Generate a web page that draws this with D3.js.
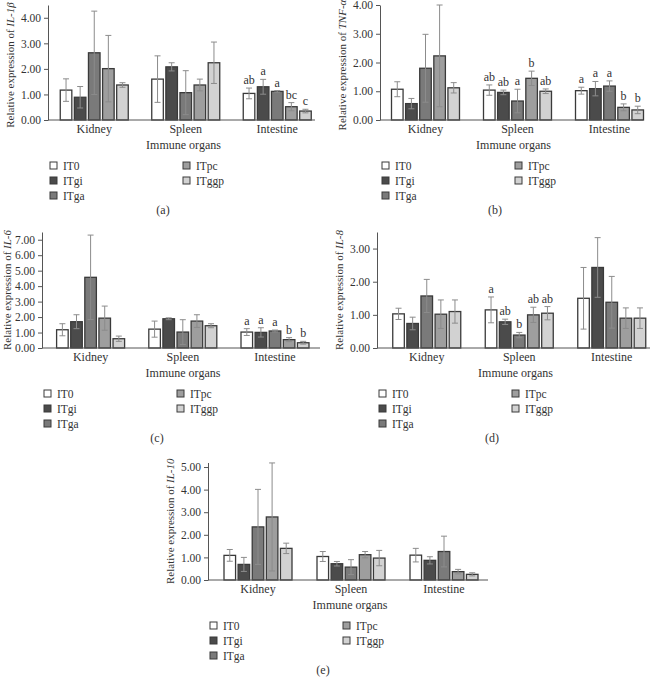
<!DOCTYPE html>
<html>
<head>
<meta charset="utf-8">
<script src="https://cdn.jsdelivr.net/npm/d3@7"></script>
<style>
body { margin: 0; background: #fff; }
text { font-family: "Liberation Serif", "DejaVu Serif", serif; fill: #333; }
</style>
</head>
<body>
<div id="chart"></div>
<script>
// categories
const organs = ["Kidney", "Spleen", "Intestine"];
const groups = ["IT0", "ITgi", "ITga", "ITpc", "ITggp"];
const groupColors = ["#ffffff", "#4b4b4b", "#7a7a7a", "#9e9e9e", "#d2d2d2"];

// (a) IL-1β  -- rows = organs, cols = groups
const il1bMean = [[1.17, 0.89, 2.63, 2.01, 1.37], [1.60, 2.08, 1.07, 1.37, 2.24], [1.04, 1.30, 1.12, 0.52, 0.35]];
const il1bSd   = [[0.44, 0.42, 1.63, 1.30, 0.09], [0.91, 0.16, 0.86, 0.23, 0.81], [0.21, 0.29, 0.03, 0.16, 0.07]];
const il1bLetters = [[], [], ["ab", "a", "a", "bc", "c"]];
const il1bTicks = [0, 1, 2, 3, 4];

// (b) TNF-α
const tnfMean = [[1.07, 0.57, 1.80, 2.23, 1.12], [1.04, 0.96, 0.66, 1.45, 1.00], [1.02, 1.09, 1.18, 0.44, 0.35]];
const tnfSd   = [[0.26, 0.18, 1.18, 1.77, 0.18], [0.18, 0.08, 0.41, 0.25, 0.08], [0.12, 0.25, 0.18, 0.12, 0.13]];
const tnfLetters = [[], ["ab", "ab", "a", "b", "ab"], ["a", "a", "a", "b", "b"]];
const tnfTicks = [0, 1, 2, 3, 4];

// (c) IL-6
const il6Mean = [[1.18, 1.70, 4.57, 1.93, 0.60], [1.22, 1.89, 1.03, 1.74, 1.44], [1.03, 1.01, 1.10, 0.54, 0.34]];
const il6Sd   = [[0.39, 0.45, 2.73, 0.78, 0.17], [0.52, 0.06, 0.80, 0.41, 0.13], [0.22, 0.30, 0.06, 0.13, 0.09]];
const il6Letters = [[], [], ["a", "a", "a", "b", "b"]];
const il6Ticks = [0, 1, 2, 3, 4, 5, 6, 7];

// (d) IL-8
const il8Mean = [[1.03, 0.74, 1.57, 1.02, 1.10], [1.15, 0.79, 0.39, 1.00, 1.05], [1.50, 2.43, 1.38, 0.90, 0.90]];
const il8Sd   = [[0.17, 0.19, 0.50, 0.43, 0.35], [0.39, 0.08, 0.08, 0.23, 0.20], [0.93, 0.90, 0.78, 0.31, 0.31]];
const il8Letters = [[], ["a", "ab", "b", "ab", "ab"], []];
const il8Ticks = [0, 1, 2, 3];

// (e) IL-10
const il10Mean = [[1.09, 0.69, 2.35, 2.79, 1.40], [1.04, 0.72, 0.57, 1.12, 0.97], [1.10, 0.87, 1.26, 0.37, 0.25]];
const il10Sd   = [[0.26, 0.31, 1.66, 2.39, 0.23], [0.22, 0.10, 0.33, 0.14, 0.34], [0.30, 0.16, 0.68, 0.10, 0.07]];
const il10Letters = [[], [], []];
const il10Ticks = [0, 1, 2, 3, 4, 5];

const W = 658, H = 682;
const svg = d3.select("#chart").append("svg")
  .attr("width", W)
  .attr("height", H);

const panels = [
  { gene: "IL-1β", mean: il1bMean, sd: il1bSd, letters: il1bLetters, ticks: il1bTicks, yMax: 4.5, tag: "(a)", ax: 48, x0: 48.5, step: 91.5, xEnd: 315, y0: 120, top: 5 },
  { gene: "TNF-α", mean: tnfMean, sd: tnfSd, letters: tnfLetters, ticks: tnfTicks, yMax: 4, tag: "(b)", ax: 380, x0: 379.5, step: 92, xEnd: 643, y0: 120, top: 5 },
  { gene: "IL-6", mean: il6Mean, sd: il6Sd, letters: il6Letters, ticks: il6Ticks, yMax: 7.5, tag: "(c)", ax: 42, x0: 44.5, step: 92.2, xEnd: 320, y0: 348, top: 232 },
  { gene: "IL-8", mean: il8Mean, sd: il8Sd, letters: il8Letters, ticks: il8Ticks, yMax: 3.5, tag: "(d)", ax: 377, x0: 380.5, step: 92.5, xEnd: 650, y0: 348, top: 232 },
  { gene: "IL-10", mean: il10Mean, sd: il10Sd, letters: il10Letters, ticks: il10Ticks, yMax: 5.2, tag: "(e)", ax: 208, x0: 211.5, step: 93, xEnd: 488, y0: 580, top: 462.5 }
];

panels.forEach(p => drawPanel(p));

function drawPanel(p) {
  const g = svg.append("g");

  const x = d3.scaleBand()
    .domain(organs)
    .range([p.x0, p.x0 + 3 * p.step])
    .padding(0);
  const xs = d3.scaleBand()
    .domain(groups)
    .range([-34, 34])
    .paddingInner(0.18);
  const y = d3.scaleLinear()
    .domain([0, p.yMax])
    .range([p.y0, p.top]);

  // bars
  organs.forEach((o, i) => {
    const cx = x(o) + x.bandwidth() / 2;
    const og = g.append("g").attr("transform", `translate(${cx},0)`);
    og.selectAll("rect")
      .data(groups)
      .join("rect")
      .attr("x", d => xs(d))
      .attr("y", (d, j) => y(p.mean[i][j]))
      .attr("width", xs.bandwidth())
      .attr("height", (d, j) => p.y0 - y(p.mean[i][j]))
      .attr("fill", (d, j) => groupColors[j])
      .attr("stroke", "#3a3a3a")
      .attr("stroke-width", 1.3);

    // error bars
    const eb = og.selectAll("g.err")
      .data(groups)
      .join("g")
      .attr("class", "err")
      .attr("stroke", "#8c8c8c")
      .attr("stroke-width", 1);
    eb.append("line")
      .attr("x1", d => xs(d) + xs.bandwidth() / 2)
      .attr("x2", d => xs(d) + xs.bandwidth() / 2)
      .attr("y1", (d, j) => y(Math.max(0, p.mean[i][j] - p.sd[i][j])))
      .attr("y2", (d, j) => y(p.mean[i][j] + p.sd[i][j]));
    [1, -1].forEach(s => {
      eb.append("line")
        .attr("x1", d => xs(d) + xs.bandwidth() / 2 - 3)
        .attr("x2", d => xs(d) + xs.bandwidth() / 2 + 3)
        .attr("y1", (d, j) => y(Math.max(0, p.mean[i][j] + s * p.sd[i][j])))
        .attr("y2", (d, j) => y(Math.max(0, p.mean[i][j] + s * p.sd[i][j])));
    });

    // significance letters
    og.selectAll("text.sig")
      .data(p.letters[i])
      .join("text")
      .attr("class", "sig")
      .attr("x", (d, j) => xs(groups[j]) + xs.bandwidth() / 2)
      .attr("y", (d, j) => y(p.mean[i][j] + p.sd[i][j]) - 4)
      .attr("text-anchor", "middle")
      .attr("font-size", 12)
      .text(d => d);
  });

  // y axis
  const yAxis = g.append("g")
    .attr("transform", `translate(${p.ax},0)`)
    .call(d3.axisLeft(y).tickValues(p.ticks).tickFormat(d3.format(".2f")).tickSize(4).tickSizeOuter(0).tickPadding(3));
  yAxis.selectAll("text").attr("font-size", 11.5).style("fill", "#333");
  yAxis.selectAll("line,path").attr("stroke", "#555");

  // x axis
  const xAxis = g.append("g")
    .attr("transform", `translate(0,${p.y0})`)
    .call(d3.axisBottom(x).tickSize(0).tickPadding(4));
  xAxis.select(".domain").remove();
  xAxis.selectAll("text").attr("font-size", 12).style("fill", "#333");
  g.append("line")
    .attr("x1", p.ax).attr("x2", p.xEnd)
    .attr("y1", p.y0).attr("y2", p.y0)
    .attr("stroke", "#555");

  // axis titles
  const yt = g.append("text")
    .attr("transform", `translate(${Math.max(11, p.ax - 34)},${Math.max(65, (p.y0 + p.top) / 2)}) rotate(-90)`)
    .attr("text-anchor", "middle")
    .attr("font-size", 11);
  yt.append("tspan").text("Relative expression of ");
  yt.append("tspan").attr("font-style", "italic").text(p.gene);

  g.append("text")
    .attr("x", (p.ax + p.xEnd) / 2 + 2)
    .attr("y", p.y0 + 29)
    .attr("text-anchor", "middle")
    .attr("font-size", 12)
    .text("Immune organs");

  // legend
  const leg = g.selectAll("g.leg")
    .data(groups)
    .join("g")
    .attr("class", "leg")
    .attr("transform", (d, j) => {
      const col = j < 3 ? 0 : 1;
      const row = j < 3 ? j : j - 3;
      return `translate(${p.ax + 2 + col * 133},${p.y0 + 46 + row * 15})`;
    });
  leg.append("rect")
    .attr("x", 0).attr("y", -4)
    .attr("width", 7).attr("height", 7)
    .attr("fill", (d, j) => groupColors[j])
    .attr("stroke", "#3a3a3a");
  leg.append("text")
    .attr("x", 13).attr("y", 4)
    .attr("font-size", 11.5)
    .text(d => d);

  g.append("text")
    .attr("x", p.ax + 115)
    .attr("y", p.y0 + 94)
    .attr("text-anchor", "middle")
    .attr("font-size", 12)
    .text(p.tag);
}
</script>
</body>
</html>
